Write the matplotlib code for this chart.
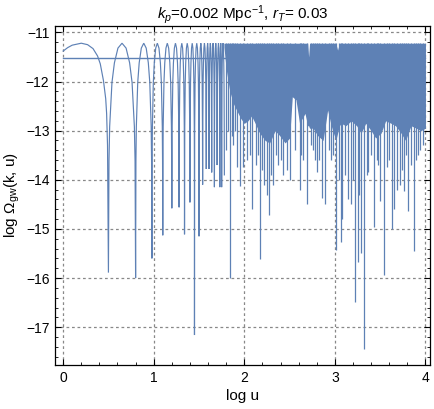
import matplotlib
matplotlib.use("Agg")
import matplotlib.pyplot as plt
from matplotlib.ticker import MultipleLocator

plt.rcParams['font.family'] = ['Liberation Sans', 'DejaVu Sans']
plt.rcParams['mathtext.fontset'] = 'custom'
plt.rcParams['mathtext.rm'] = 'Liberation Sans'
plt.rcParams['mathtext.it'] = 'Liberation Sans:italic'
plt.rcParams['mathtext.bf'] = 'Liberation Sans:bold'

# ---------------- data ----------------
crest_level = -11.22          # level of every crest of the oscillation
mean_level = -11.52           # horizontal reference line

# first (broad) arch, read point by point
first_arch_x = [0.0, 0.05, 0.10, 0.20, 0.27, 0.33, 0.38, 0.41, 0.445, 0.47, 0.48, 0.49]
first_arch_y = [-11.38, -11.31, -11.26, -11.22, -11.25, -11.33, -11.48, -11.64, -11.98, -12.35, -12.65, -13.3]

# resolved dips (log u, depth)
dip_x = [0.50, 0.80, 0.98, 1.10, 1.20, 1.28, 1.34, 1.40, 1.45, 1.50, 1.54, 1.58,
         1.61, 1.64, 1.67, 1.70, 1.73, 1.75, 1.78]
dip_y = [-15.89, -16.0, -15.6, -15.13, -14.58, -14.56, -15.11, -14.46, -17.16, -15.15, -14.1, -13.78,
         -13.78, -13.85, -14.15, -13.7, -14.15, -14.15, -13.9]

# outline of one arch between two dips (fraction of the arch, drop below crest)
arch_frac = [0.02, 0.045, 0.13, 0.22, 0.35, 0.5, 0.65, 0.78, 0.87, 0.955, 0.98]
arch_drop = [-2.4, -1.7, -0.8, -0.4, -0.1, 0.0, -0.1, -0.4, -0.8, -1.7, -2.4]

# dense band (log u, upper edge, solid lower edge)
band_x = [1.775, 1.80, 1.84, 1.88, 1.92, 1.96, 2.00, 2.04, 2.08, 2.12, 2.17, 2.23, 2.28, 2.34,
          2.39, 2.45, 2.50, 2.53, 2.57, 2.61, 2.67, 2.70, 2.71, 2.72, 2.76, 2.81, 2.87, 2.92,
          2.96, 3.01, 3.03, 3.05, 3.07, 3.12, 3.18, 3.24, 3.29, 3.34, 3.40, 3.45, 3.51, 3.56,
          3.62, 3.67, 3.73, 3.78, 3.84, 3.90, 3.95, 4.00]
band_top = [-11.22] * 22 + [-11.50] + [-11.22] * 7 + [-11.36] + [-11.22] * 19
band_bottom = [-11.3, -11.75, -12.2, -12.45, -12.6, -12.75, -12.85, -12.8, -12.7, -12.85, -13.05,
               -13.2, -13.25, -13.0, -13.1, -13.25, -13.15, -12.31, -12.37, -12.85, -12.65, -12.9,
               -12.9, -12.95, -12.95, -13.1, -13.2, -12.58, -12.9, -13.2, -13.05, -12.9, -12.85,
               -12.9, -12.8, -12.9, -13.05, -12.85, -13.0, -13.15, -13.05, -12.8, -12.85,
               -12.9, -13.05, -13.2, -12.9, -12.95, -13.0, -12.95]

# spikes below the band (log u, depth)
spike_x = [1.80, 1.82, 1.84, 1.86, 1.88, 1.90,
           1.915, 1.95, 1.99, 2.025, 2.06, 2.09, 2.13, 2.15, 2.17, 2.20, 2.22, 2.25, 2.27, 2.30, 2.32,
           2.35, 2.37, 2.41, 2.43, 2.47, 2.50, 2.56, 2.61, 2.63, 2.65, 2.69, 2.74, 2.76, 2.78, 2.80,
           2.83, 2.86, 2.89, 2.93, 2.96, 2.98, 3.01, 3.04, 3.07, 3.08, 3.11, 3.15, 3.18, 3.20,
           3.22, 3.25, 3.27, 3.29, 3.32, 3.35, 3.37, 3.40, 3.43, 3.46, 3.48, 3.50, 3.54, 3.57,
           3.60, 3.63, 3.65, 3.69, 3.72, 3.74, 3.76, 3.79, 3.81, 3.84, 3.87, 3.90, 3.92, 3.94,
           3.97]
spike_y = [-13.4, -13.0, -16.0, -13.1, -13.3, -13.0,
           -13.75, -14.13, -13.73, -13.6, -13.5, -14.6, -13.7, -13.5, -15.62, -13.8, -14.1, -14.3,
           -14.72, -13.9, -14.1, -13.5, -13.7, -13.6, -13.9, -13.8, -14.0, -13.4, -14.2, -13.5,
           -13.6, -14.5, -13.3, -13.4, -13.6, -13.84, -13.6, -14.38, -14.5, -13.4, -13.6, -13.5,
           -15.42, -14.0, -15.26, -14.8, -13.9, -14.4, -14.5, -14.0, -16.48, -15.67, -14.3,
           -15.5, -17.45, -13.9, -13.84, -13.5, -14.96, -13.6, -13.7, -14.44, -15.94, -13.75,
           -13.6, -15.0, -14.6, -14.2, -14.1, -13.8, -14.22, -13.5, -14.64, -13.7, -15.45,
           -13.6, -13.5, -13.4, -13.3]

title = r'$k_p$=0.002 Mpc$^{-1}$, $r_T$= 0.03'
xlabel = 'log u'
ylabel = r'log $\Omega_{\mathrm{gw}}$(k, u)'

# ---------------- build the resolved part of the curve ----------------
cx = list(first_arch_x)
cy = list(first_arch_y)
cx.append(dip_x[0]); cy.append(dip_y[0])
for i in range(len(dip_x) - 1):
    a, b = dip_x[i], dip_x[i + 1]
    for f, d in zip(arch_frac, arch_drop):
        cx.append(a + f * (b - a))
        cy.append(crest_level + d)
    cx.append(b); cy.append(dip_y[i + 1])

color = '#5E81B5'

fig = plt.figure(figsize=(4.35, 4.09), dpi=100)
ax = fig.add_axes([0.1264, 0.1076, 0.8621, 0.8288])

ax.plot([0, 4], [mean_level, mean_level], color=color, lw=1.0)
ax.plot(cx, cy, color=color, lw=0.85, solid_joinstyle='miter')
ax.fill_between(band_x, band_bottom, band_top, color=color, lw=0)
ax.vlines(spike_x, spike_y, crest_level, color=color, lw=0.9)

ax.set_xlim(-0.09, 4.05)
ax.set_ylim(-17.77, -10.87)

ax.xaxis.set_major_locator(MultipleLocator(1))
ax.xaxis.set_minor_locator(MultipleLocator(0.2))
ax.yaxis.set_major_locator(MultipleLocator(1))
ax.yaxis.set_minor_locator(MultipleLocator(0.2))
ax.tick_params(which='both', direction='in', top=True, right=True, labelsize=10, colors='black')
ax.tick_params(which='major', length=4, width=0.8, pad=4)
ax.tick_params(which='minor', length=2, width=0.6)
ax.set_yticks([-11, -12, -13, -14, -15, -16, -17])
ax.set_yticklabels(['\u221211', '\u221212', '\u221213', '\u221214', '\u221215', '\u221216', '\u221217'])
ax.set_xticks([0, 1, 2, 3, 4])
ax.set_xticklabels(['0', '1', '2', '3', '4'])

ax.grid(True, which='major', color='#888888', linestyle=(0, (2.2, 2.2)), lw=0.9)
ax.set_axisbelow(True)
for s in ax.spines.values():
    s.set_linewidth(0.9)

ax.set_title(title, fontsize=11, pad=5)
ax.set_xlabel(xlabel, fontsize=11, labelpad=3)
ax.set_ylabel(ylabel, fontsize=11, labelpad=3)

fig.savefig('out.png', dpi=100)
